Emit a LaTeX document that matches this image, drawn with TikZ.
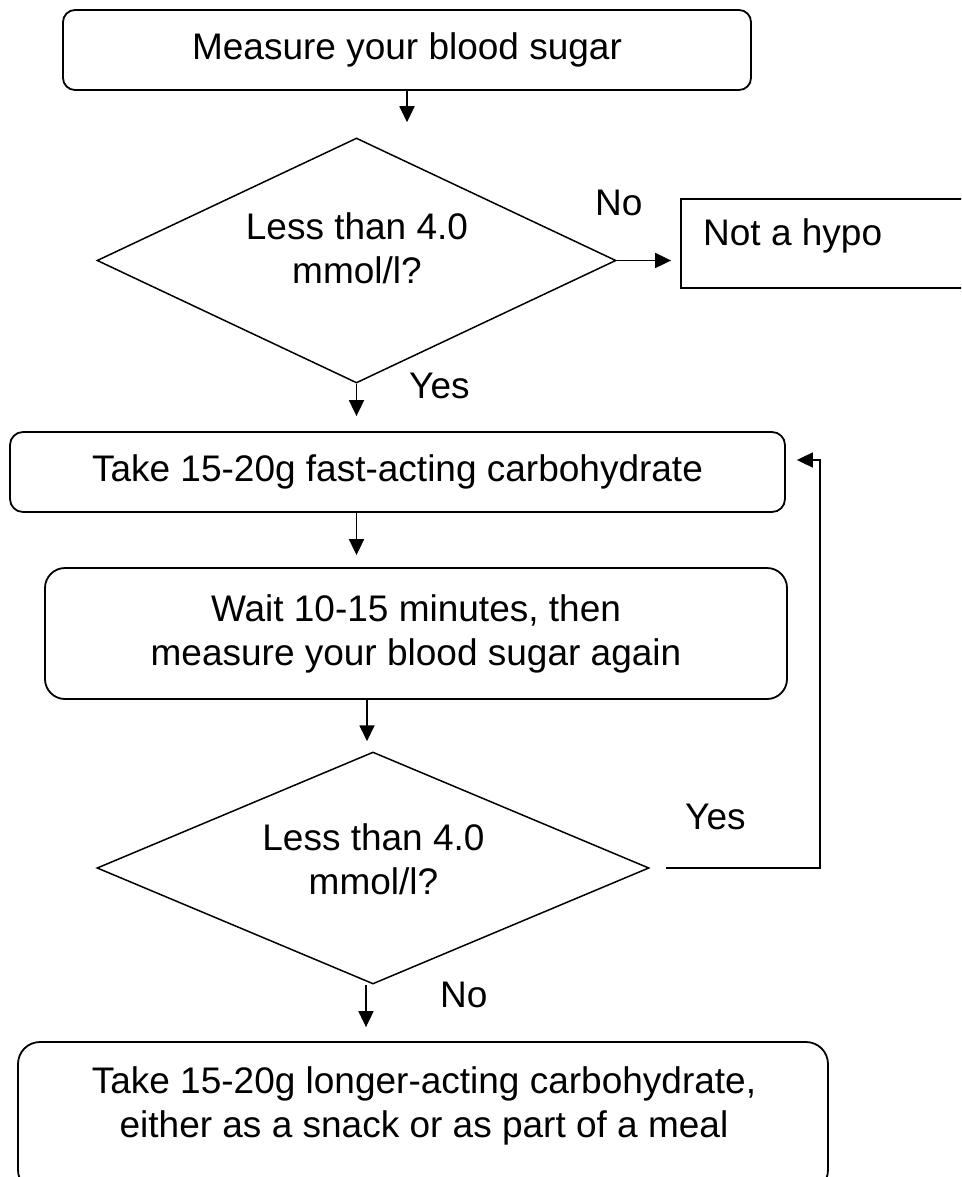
\documentclass[tikz,border=0pt]{standalone}
\usepackage{fontspec}
\setmainfont{Liberation Sans}
\usetikzlibrary{arrows.meta,shapes.geometric}
\tikzset{
  txt/.style={font=\fontsize{37}{44}\selectfont, inner sep=0pt, align=center},
  lbl/.style={font=\fontsize{37}{44}\selectfont, inner sep=0pt, anchor=base west},
  stepbox/.style={draw, line width=1.8pt, font=\fontsize{37}{44}\selectfont, align=center, inner sep=0pt},
  decision/.style={draw, diamond, line width=1.5pt, inner sep=0pt},
  arr/.style={-{Triangle[length=16pt,width=15pt]}, line width=1.8pt},
}
\begin{document}
\begin{tikzpicture}[x=1pt,y=-1pt]
\clip (0,0) rectangle (961,1177);
\fill[white] (0,0) rectangle (961,1177);

% boxes
\node[stepbox, rounded corners=12pt, minimum width=688pt, minimum height=80pt] (b1) at (407,50) {Measure your blood sugar};
\node[decision, minimum width=519pt, minimum height=245pt] (d1) at (356.5,260.5) {};
\node[txt] (d1t) at (357,247.8) {Less than 4.0\\mmol/l?};
\node[draw, line width=1.8pt, minimum width=319pt, minimum height=89pt, inner sep=0pt] (nh) at (840.5,243.5) {};
\node[lbl] (nht) at (703,245) {Not a hypo};
\node[stepbox, rounded corners=13pt, minimum width=775pt, minimum height=80pt] (b2) at (397.5,472) {Take 15-20g fast-acting carbohydrate};
\node[stepbox, rounded corners=20pt, minimum width=742pt, minimum height=131pt] (b3) at (416,633.5) {Wait 10-15 minutes, then\\measure your blood sugar again};
\node[decision, minimum width=552pt, minimum height=232pt] (d2) at (373,868) {};
\node[txt] (d2t) at (373.5,859.3) {Less than 4.0\\mmol/l?};
\node[draw, line width=1.8pt, rounded corners=22pt, minimum width=810pt, minimum height=150pt, inner sep=0pt] (b4) at (423,1117) {};
\node[txt] (b4t) at (424,1105.6) {Take 15-20g longer-acting carbohydrate,\\either as a snack or as part of a meal};

% labels
\node[lbl] (no1) at (595,215) {No};
\node[lbl] (yes1) at (409,398) {Yes};
\node[lbl] (yes2) at (685,829) {Yes};
\node[lbl] (no2) at (440,1007) {No};

% connectors
\draw[arr, shorten >=15pt] (b1.south) -- (b1.south |- d1.north);
\draw[arr, shorten >=9pt] (d1.east) -- (d1.east -| nh.west);
\draw[arr, shorten >=15pt] (d1.south) -- (d1.south |- b2.north);
\draw[arr, shorten >=12pt] (b2.south -| d1.south) -- (b3.north -| d1.south);
\draw[arr, shorten >=10pt] ([xshift=-6pt]d2.north |- b3.south) -- ([xshift=-6pt]d2.north);
\draw[arr, shorten >=14pt] ([xshift=-7pt]d2.south) -- ([xshift=-7pt]d2.south |- b4.north);
\coordinate (b2in) at ([yshift=12pt]b2.east);
\coordinate (loopx) at (820,0);
\draw[arr, shorten <=16pt, shorten >=11pt] (d2.east) -- (d2.east -| loopx) -- (loopx |- b2in) -- (b2in);
\end{tikzpicture}
\end{document}
